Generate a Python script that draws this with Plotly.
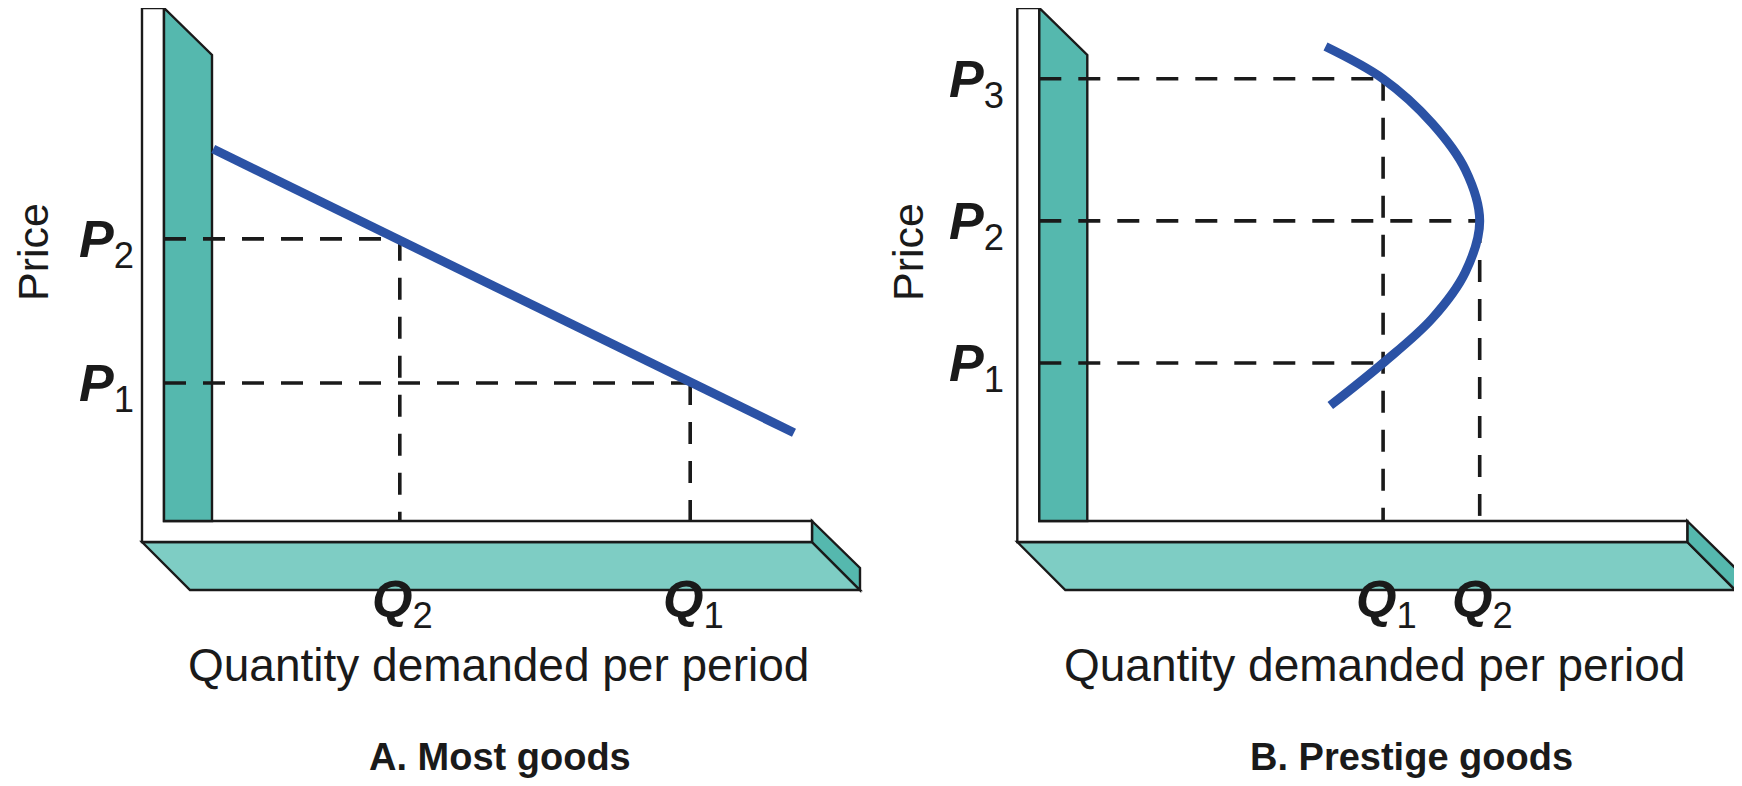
import plotly.graph_objects as go

# ---------------- data (conceptual units) ----------------
# Panel A: most goods (downward-sloping demand)
a_demand_q = [0.02, 9.70]
a_demand_p = [7.25, 1.72]
a_price_levels = [2.69, 5.50]          # P1, P2
a_price_names = ["1", "2"]
a_qty_levels = [7.97, 3.13]            # Q1, Q2 (matching P1, P2)
a_qty_names = ["1", "2"]

# Panel B: prestige goods (backward-bending demand)
b_demand_q = [3.97, 4.93, 5.75, 6.30, 6.54, 6.30, 5.75, 4.93, 4.05]
b_demand_p = [9.25, 8.62, 7.75, 6.85, 5.85, 4.85, 3.95, 3.08, 2.25]
b_price_levels = [3.08, 5.85, 8.62]    # P1, P2, P3
b_price_names = ["1", "2", "3"]
b_qty_levels = [4.93, 6.54, 4.93]      # quantity at P1, P2, P3
b_qty_ticks = [4.93, 6.54]             # Q1, Q2
b_qty_names = ["1", "2"]

# ---------------- styling / geometry ----------------
OFF = 8                        # default page body margin
W, H = 1742 - 2 * OFF, 786 - 2 * OFF
XPX, YPX = 60.0, 51.3          # pixels per unit
ORIGIN_A = (212.0 - OFF, 521.0 - OFF)   # figure pixel of (0,0), panel A
ORIGIN_B = (1087.3 - OFF, 521.0 - OFF)

BLUE = "#2b52a5"
TEAL = "#55b8ae"
TEAL_LIGHT = "#7ecdc4"
INK = "#1a1a1a"
FONT = "Liberation Sans, Arial, Helvetica, sans-serif"
DASH = "22px,17px"

fig = go.Figure()


def xr(ox):
    return [-ox / XPX, (W - ox) / XPX]


yr = [(ORIGIN_A[1] - H) / YPX, ORIGIN_A[1] / YPX]

# frame geometry in units
x_white = -70 / XPX
x_teal = -48 / XPX
top = 513 / YPX
teal_top_r = 466 / YPX
floor_w = -21 / YPX
floor_b = -69 / YPX
side_t = -47 / YPX
x_end = 10.0
depth = 48 / XPX


def frame(xref):
    shapes = []
    lw = 2.4
    shapes.append(dict(type="path", xref=xref, yref="y",
        path=f"M {x_white},{floor_w} L {x_white+depth},{floor_b} L {x_end+depth},{floor_b} L {x_end},{floor_w} Z",
        fillcolor=TEAL_LIGHT, line=dict(color=INK, width=lw), layer="below"))
    shapes.append(dict(type="path", xref=xref, yref="y",
        path=f"M {x_end},0 L {x_end+depth},{side_t} L {x_end+depth},{floor_b} L {x_end},{floor_w} Z",
        fillcolor=TEAL, line=dict(color=INK, width=lw), layer="below"))
    shapes.append(dict(type="path", xref=xref, yref="y",
        path=f"M {x_white},{top} L {x_teal},{top} L {x_teal},0 L {x_end},0 L {x_end},{floor_w} L {x_white},{floor_w} Z",
        fillcolor="white", line=dict(color=INK, width=lw), layer="below"))
    shapes.append(dict(type="path", xref=xref, yref="y",
        path=f"M {x_teal},{top} L 0,{teal_top_r} L 0,0 L {x_teal},0 Z",
        fillcolor=TEAL, line=dict(color=INK, width=lw), layer="below"))
    return shapes


fig.update_layout(shapes=frame("x") + frame("x2"))

dash_line = dict(color=INK, width=3.6, dash=DASH)


def guide(xs, ys, xa):
    fig.add_trace(go.Scatter(x=xs, y=ys, mode="lines", line=dash_line,
                             xaxis=xa, yaxis="y", hoverinfo="skip", showlegend=False))


# Panel A guides
for p, q in zip(a_price_levels, a_qty_levels):
    guide([x_teal, q], [p, p], "x")
    guide([q, q], [p, 0], "x")
fig.add_trace(go.Scatter(x=a_demand_q, y=a_demand_p, mode="lines",
                         line=dict(color=BLUE, width=9), xaxis="x", yaxis="y", showlegend=False))

# Panel B guides
for p, q in zip(b_price_levels, b_qty_levels):
    guide([x_teal, q], [p, p], "x2")
guide([b_qty_ticks[0]] * 2, [max(b_price_levels), 0], "x2")
guide([b_qty_ticks[1]] * 2, [b_price_levels[1], 0], "x2")
fig.add_trace(go.Scatter(x=b_demand_q, y=b_demand_p, mode="lines", line_shape="spline",
                         line=dict(color=BLUE, width=9, smoothing=1.0), xaxis="x2", yaxis="y",
                         showlegend=False))

ann = []
LBL = 52


def plabel(xref, xpos, p, sub):
    return dict(xref=xref, yref="y", x=xpos, y=p, xanchor="right", yanchor="middle",
                text=f"<b><i>P</i></b><sub>{sub}</sub>", showarrow=False,
                font=dict(family=FONT, size=LBL, color=INK), yshift=-4)


def qlabel(xref, q, sub):
    return dict(xref=xref, yref="y", x=q, y=-1.6, xanchor="center", yanchor="middle",
                text=f"<b><i>Q</i></b><sub>{sub}</sub>", showarrow=False,
                font=dict(family=FONT, size=LBL, color=INK), xshift=3)


for p, s in zip(a_price_levels, a_price_names):
    ann.append(plabel("x", -1.27, p, s))
for q, s in zip(a_qty_levels, a_qty_names):
    ann.append(qlabel("x", q, s))
for p, s in zip(b_price_levels, b_price_names):
    ann.append(plabel("x2", -1.36, p, s))
for q, s in zip(b_qty_ticks, b_qty_names):
    ann.append(qlabel("x2", q, s))

for xref, xp, tx in [("x", 4.8, "A. Most goods"), ("x2", 5.41, "B. Prestige goods")]:
    ann.append(dict(xref=xref, yref="y", x=4.78, y=-2.8, text="Quantity demanded per period",
                    showarrow=False, xanchor="center", yanchor="middle",
                    font=dict(family=FONT, size=46, color=INK)))
    ann.append(dict(xref=xref, yref="y", x=xp, y=-4.6, text=f"<b>{tx}</b>",
                    showarrow=False, xanchor="center", yanchor="middle",
                    font=dict(family=FONT, size=38, color=INK)))

for px in (33, 908):
    ann.append(dict(xref="paper", yref="paper", x=(px - OFF) / W, y=1 - (252 - OFF) / H,
                    text="Price", textangle=-90, showarrow=False,
                    xanchor="center", yanchor="middle",
                    font=dict(family=FONT, size=43, color=INK)))

axis_common = dict(visible=False, showgrid=False, zeroline=False, fixedrange=True)
fig.update_layout(
    width=W, height=H, margin=dict(l=0, r=0, t=0, b=0),
    paper_bgcolor="white", plot_bgcolor="white",
    xaxis=dict(domain=[0, 1], range=xr(ORIGIN_A[0]), **axis_common),
    xaxis2=dict(domain=[0, 1], range=xr(ORIGIN_B[0]), overlaying="x", **axis_common),
    yaxis=dict(domain=[0, 1], range=yr, **axis_common),
    annotations=ann, showlegend=False,
)

fig.write_html("out.html")
